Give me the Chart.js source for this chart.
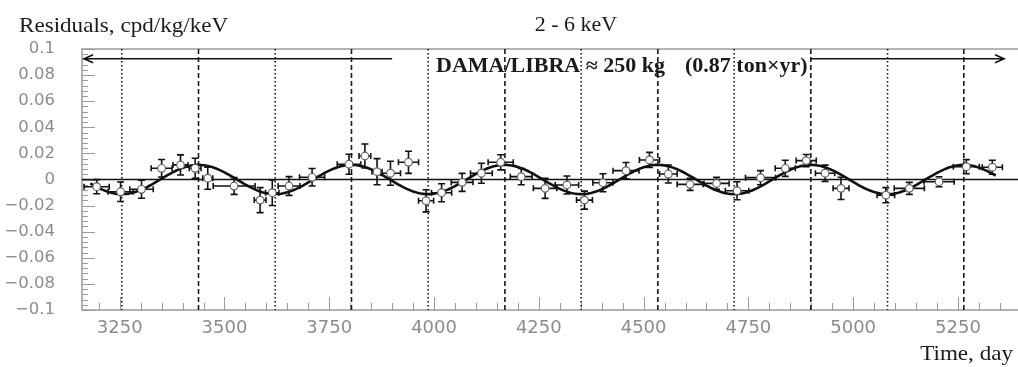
<!DOCTYPE html>
<html>
<head>
<meta charset="utf-8">
<script src="https://cdn.jsdelivr.net/npm/chart.js@4/dist/chart.umd.min.js"></script>
<style>
  html, body { margin: 0; padding: 0; background: #fff; overflow: hidden; }
</style>
</head>
<body>
<canvas id="residuals-chart" width="1026" height="367"></canvas>
<script>
// Residual rate in the 2 - 6 keV window, one point per time bin
var days = [3195, 3252, 3302, 3350, 3395, 3430, 3460, 3523, 3585, 3614, 3654, 3709,
  3797, 3835, 3864, 3896, 3939, 3981, 4018, 4067, 4113, 4159, 4208, 4265, 4317,
  4359, 4403, 4458, 4514, 4559, 4611, 4674, 4723, 4779, 4838, 4888, 4933, 4971,
  5078, 5134, 5205, 5270, 5332];
var residuals = [-0.0055, -0.0094, -0.0075, 0.0086, 0.0112, 0.0086, 0.001, -0.005,
  -0.0158, -0.0101, -0.005, 0.0017, 0.0117, 0.018, 0.006, 0.0048, 0.0132, -0.0163,
  -0.0101, -0.0022, 0.0048, 0.0132, 0.0022, -0.0068, -0.0042, -0.0158, -0.0025,
  0.0068, 0.015, 0.0042, -0.0037, -0.003, -0.0086, 0.0014, 0.0086, 0.0145, 0.0048,
  -0.0068, -0.012, -0.0068, -0.0017, 0.0098, 0.0094];
// half width of each time bin, days
var dayErrors = [30, 30, 28, 25, 18, 14, 12, 50, 14, 16, 26, 30, 28, 14, 12, 24, 24,
  18, 24, 26, 26, 30, 26, 28, 28, 19, 24, 31, 24, 21, 31, 30, 28, 36, 24, 24, 23, 19,
  21, 36, 36, 31, 24];
var residualErrors = [0.0054, 0.0075, 0.0069, 0.0067, 0.0077, 0.0077, 0.0085, 0.0064,
  0.0096, 0.0098, 0.0072, 0.0067, 0.0077, 0.0092, 0.01, 0.0092, 0.0085, 0.0085,
  0.0069, 0.0069, 0.0077, 0.0058, 0.0062, 0.0077, 0.0069, 0.0069, 0.0069, 0.0062,
  0.0058, 0.0069, 0.0046, 0.0046, 0.0069, 0.0054, 0.0062, 0.0046, 0.0062, 0.0085,
  0.0058, 0.0046, 0.0038, 0.0054, 0.0054];

var xTickLabels = [3250, 3500, 3750, 4000, 4250, 4500, 4750, 5000, 5250];
var yTickLabels = [-0.1, -0.08, -0.06, -0.04, -0.02, 0, 0.02, 0.04, 0.06, 0.08, 0.1];

// Cosine fit A cos(2pi/T (t - t0))
var fitAmplitude = 0.0112;
var fitPeriod = 365.25;
var fitPhase = 3438;
var fitStart = 3180;
var fitEnd = 5340;

// expected maxima (dashed) and minima (dotted)
var maximumDays = [3438, 3803, 4169, 4534, 4899, 5264];
var minimumDays = [3255, 3621, 3986, 4351, 4716, 5082];

// exposure arrows: [tail, head] in days
var exposureArrows = [[3900, 3165], [4899, 5360]];
var arrowLevel = 0.0925;

var fitCurve = [];
for (var t = fitStart; t <= fitEnd; t += 5) {
  fitCurve.push({ x: t, y: fitAmplitude * Math.cos(2 * Math.PI / fitPeriod * (t - fitPhase)) });
}

var points = days.map(function (d, i) {
  return { x: d, y: residuals[i] };
});

function serifText(ctx, text, x, y, font, align) {
  ctx.save();
  ctx.font = font;
  ctx.fillStyle = "#1a1a1a";
  ctx.textBaseline = "alphabetic";
  var w = ctx.measureText(text).width * 1.1;
  var left = align === "center" ? x - w / 2 : align === "right" ? x - w : x;
  ctx.translate(left, y);
  ctx.scale(1.1, 1);
  ctx.textAlign = "left";
  ctx.fillText(text, 0, 0);
  ctx.restore();
}

var overlay = {
  id: "overlay",
  beforeDatasetsDraw: function (chart) {
    var ctx = chart.ctx;
    var xs = chart.scales.x;
    var ys = chart.scales.y;
    var area = chart.chartArea;
    ctx.save();

    // frame: top, left and bottom only
    ctx.strokeStyle = "#9a9a9a";
    ctx.lineWidth = 1.5;
    ctx.beginPath();
    ctx.moveTo(area.right, area.top);
    ctx.lineTo(area.left, area.top);
    ctx.lineTo(area.left, area.bottom);
    ctx.lineTo(area.right, area.bottom);
    ctx.stroke();

    // inward tick marks
    ctx.lineWidth = 1;
    ctx.beginPath();
    for (var k = 0; k <= 50; k++) {
      var py = Math.round(ys.getPixelForValue(-0.1 + k * 0.004)) + 0.5;
      ctx.moveTo(area.left, py);
      ctx.lineTo(area.left + (k % 5 === 0 ? 13 : 6), py);
    }
    for (var d = 3200; d <= 5400; d += 50) {
      var px = Math.round(xs.getPixelForValue(d)) + 0.5;
      ctx.moveTo(px, area.bottom);
      ctx.lineTo(px, area.bottom - (d % 250 === 0 ? 13 : 7));
    }
    ctx.stroke();

    // maxima / minima markers
    ctx.strokeStyle = "#1a1a1a";
    ctx.lineWidth = 1.6;
    ctx.setLineDash([5, 3]);
    ctx.beginPath();
    maximumDays.forEach(function (m) {
      var px = xs.getPixelForValue(m);
      ctx.moveTo(px, area.top);
      ctx.lineTo(px, area.bottom);
    });
    ctx.stroke();
    ctx.setLineDash([1.5, 2.5]);
    ctx.beginPath();
    minimumDays.forEach(function (m) {
      var px = xs.getPixelForValue(m);
      ctx.moveTo(px, area.top);
      ctx.lineTo(px, area.bottom);
    });
    ctx.stroke();
    ctx.setLineDash([]);

    // zero line
    var y0 = ys.getPixelForValue(0);
    ctx.strokeStyle = "#111";
    ctx.lineWidth = 1.5;
    ctx.beginPath();
    ctx.moveTo(area.left, y0);
    ctx.lineTo(area.right, y0);
    ctx.stroke();

    // exposure arrows
    var ya = ys.getPixelForValue(arrowLevel);
    ctx.lineWidth = 1.6;
    exposureArrows.forEach(function (a) {
      var x1 = xs.getPixelForValue(a[0]);
      var x2 = xs.getPixelForValue(a[1]);
      var dir = x2 > x1 ? 1 : -1;
      ctx.beginPath();
      ctx.moveTo(x1, ya);
      ctx.lineTo(x2, ya);
      ctx.moveTo(x2 - dir * 9, ya - 4);
      ctx.lineTo(x2, ya);
      ctx.lineTo(x2 - dir * 9, ya + 4);
      ctx.stroke();
    });

    // error bars
    ctx.strokeStyle = "#111";
    ctx.lineWidth = 1.6;
    ctx.beginPath();
    days.forEach(function (d, i) {
      var px = xs.getPixelForValue(d);
      var py = ys.getPixelForValue(residuals[i]);
      var xl = xs.getPixelForValue(d - dayErrors[i]);
      var xr = xs.getPixelForValue(d + dayErrors[i]);
      var yt = ys.getPixelForValue(residuals[i] + residualErrors[i]);
      var yb = ys.getPixelForValue(residuals[i] - residualErrors[i]);
      ctx.moveTo(xl, py); ctx.lineTo(xr, py);
      ctx.moveTo(xl, py - 3); ctx.lineTo(xl, py + 3);
      ctx.moveTo(xr, py - 3); ctx.lineTo(xr, py + 3);
      ctx.moveTo(px, yt); ctx.lineTo(px, yb);
      ctx.moveTo(px - 3.5, yt); ctx.lineTo(px + 3.5, yt);
      ctx.moveTo(px - 3.5, yb); ctx.lineTo(px + 3.5, yb);
    });
    ctx.stroke();
    ctx.restore();
  },
  afterDraw: function (chart) {
    var ctx = chart.ctx;
    serifText(ctx, "Residuals, cpd/kg/keV", 19, 32, "21px 'Liberation Serif'", "left");
    serifText(ctx, "2 - 6 keV", 576, 31, "20px 'Liberation Serif'", "center");
    serifText(ctx, "Time, day", 1013, 360, "21px 'Liberation Serif'", "right");
    serifText(ctx, "DAMA/LIBRA \u2248 250 kg", 436, 72, "bold 20px 'Liberation Serif'", "left");
    serifText(ctx, "(0.87 ton\u00d7yr)", 685, 72, "bold 20px 'Liberation Serif'", "left");
  }
};

var ctxResiduals = document.getElementById("residuals-chart").getContext("2d");

new Chart(ctxResiduals, {
  data: {
    datasets: [
      {
        type: "scatter",
        label: "Residuals",
        data: points,
        pointRadius: 3.8,
        pointBackgroundColor: "#fff",
        pointBorderColor: "#666",
        pointBorderWidth: 1.2,
        order: 0,
      },
      {
        type: "line",
        label: "Fit",
        data: fitCurve,
        borderColor: "#111",
        borderWidth: 2.6,
        pointRadius: 0,
        fill: false,
        order: 1,
      },
    ],
  },
  options: {
    responsive: false,
    animation: false,
    layout: { padding: { top: 49, right: 1, left: 0, bottom: 0 } },
    plugins: {
      legend: { display: false },
      tooltip: { enabled: false },
    },
    scales: {
      x: {
        type: "linear",
        min: 3160,
        max: 5400,
        grid: { display: false },
        border: { display: false },
        afterBuildTicks: function (scale) {
          scale.ticks = xTickLabels.map(function (v) { return { value: v }; });
        },
        afterFit: function (scale) { scale.height = 57; },
        ticks: {
          color: "#8c8c8c",
          font: { family: "DejaVu Sans", size: 18 },
          padding: 0,
          maxRotation: 0,
          autoSkip: false,
          callback: function (v) { return String(v); },
        },
      },
      y: {
        type: "linear",
        min: -0.1,
        max: 0.1,
        grid: { display: false },
        border: { display: false },
        afterBuildTicks: function (scale) {
          scale.ticks = yTickLabels.map(function (v) { return { value: v }; });
        },
        afterFit: function (scale) { scale.width = 82; },
        ticks: {
          color: "#8c8c8c",
          font: { family: "DejaVu Sans", size: 16.5 },
          padding: 19,
          callback: function (v) {
            var r = Math.round(v * 100) / 100;
            return String(r).replace("-", "\u2212");
          },
        },
      },
    },
  },
  plugins: [overlay],
});
</script>
</body>
</html>
